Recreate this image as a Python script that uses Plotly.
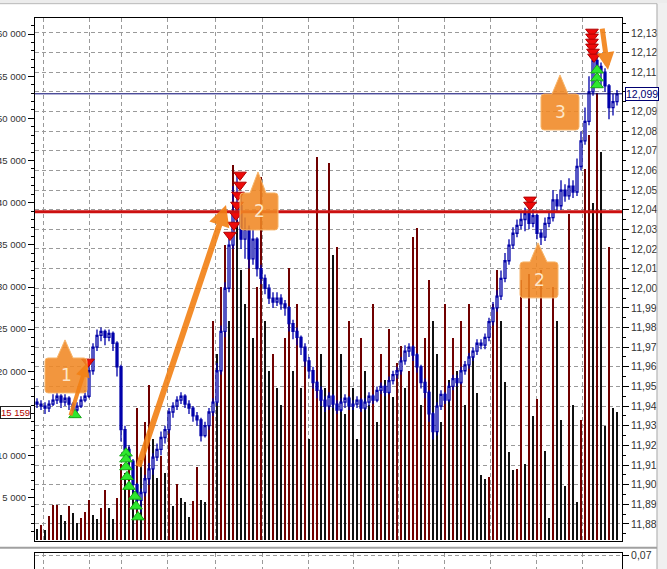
import plotly.graph_objects as go

# price bars, in thousandths above 11.800 (so 142 -> 11.942)
first_open = 142
close_ = [141, 140, 139, 141, 143, 145, 142, 144, 141, 138, 140, 143, 145, 158, 170, 176, 178, 175, 177, 172,
          160, 128, 118, 112, 100, 92, 96, 103, 108, 114, 118, 124, 128, 137, 140, 143, 145, 141, 139, 135,
          133, 125, 130, 137, 142, 158, 178, 200, 222, 238, 242, 225, 230, 215, 225, 210, 205, 200, 195, 193,
          195, 192, 190, 182, 178, 175, 170, 163, 158, 152, 148, 143, 140, 145, 141, 138, 142, 144, 140, 141,
          143, 139, 142, 145, 143, 148, 150, 147, 153, 156, 158, 163, 168, 170, 166, 160, 152, 147, 136, 127,
          140, 146, 143, 150, 154, 152, 158, 161, 165, 168, 172, 171, 175, 183, 190, 196, 205, 214, 222, 228,
          232, 235, 238, 233, 237, 228, 226, 233, 236, 245, 242, 250, 247, 252, 249, 262, 275, 285, 300, 316,
          313, 310, 303, 292, 295, 299]
high_ = [144, 143, 142, 143, 146, 147, 146, 146, 145, 142, 142, 145, 148, 161, 172, 179, 180, 179, 179, 178,
         173, 161, 130, 120, 113, 101, 98, 105, 111, 116, 121, 127, 130, 139, 142, 145, 147, 146, 143, 140,
         137, 134, 132, 139, 144, 162, 181, 203, 226, 252, 258, 248, 236, 232, 230, 226, 212, 207, 202, 198,
         198, 197, 194, 191, 184, 180, 176, 172, 165, 160, 153, 150, 145, 147, 146, 143, 144, 146, 145, 143,
         145, 144, 144, 147, 146, 150, 152, 151, 155, 158, 160, 165, 171, 172, 171, 167, 161, 154, 148, 137,
         142, 148, 147, 152, 156, 156, 160, 163, 167, 170, 174, 174, 177, 185, 193, 199, 209, 218, 225, 231,
         235, 239, 241, 240, 240, 238, 230, 236, 239, 250, 248, 255, 253, 256, 255, 266, 280, 292, 308, 321,
         320, 315, 312, 304, 299, 301]
low_ = [139, 138, 136, 137, 140, 141, 139, 140, 138, 134, 136, 139, 142, 144, 156, 168, 173, 171, 173, 168,
        155, 122, 114, 108, 96, 87, 86, 94, 100, 105, 112, 115, 121, 126, 134, 138, 141, 139, 136, 132,
        130, 122, 124, 128, 135, 140, 156, 175, 198, 220, 232, 220, 215, 210, 212, 206, 202, 197, 192, 190,
        191, 189, 186, 178, 174, 171, 166, 160, 154, 149, 144, 140, 137, 138, 139, 136, 137, 139, 138, 138,
        139, 137, 138, 140, 141, 142, 146, 145, 146, 151, 154, 156, 161, 165, 163, 157, 149, 144, 132, 123,
        125, 138, 141, 142, 148, 150, 151, 156, 159, 163, 166, 169, 169, 173, 181, 188, 194, 203, 212, 220,
        226, 230, 229, 230, 231, 225, 222, 224, 231, 234, 239, 240, 244, 245, 246, 247, 260, 273, 283, 298,
        309, 303, 300, 286, 288, 293]

volume = [1300, 1800, 1200, 2800, 4100, 4200, 3000, 2300, 4000, 3200, 2000, 2600, 3300,
          4700, 3000, 2500, 3800, 5900, 3800, 2500, 5000,
          9000, 7900, 11000, 6000, 15700, 9500, 14000, 18400, 12000, 7300, 10000, 8000,
          14000, 4000, 6700, 5000, 4500, 2700, 4600, 8700, 4800, 4500, 14000, 26000,
          22000, 30000, 35000, 26000, 44500, 38000, 32000, 28000, 36000, 24000, 30000, 43000, 26000, 20000, 22000, 18000,
          16000, 24000, 32300, 20000, 28000, 18000, 22000, 12000, 20000, 45400, 22000, 18000, 44700, 33800, 34700,
          22000, 15000, 26000, 18000, 12000, 24000, 20000, 16000, 28000, 14000, 22000, 19000, 25000, 17000, 21000,
          23000, 18000, 20000, 35900, 37000, 16000, 24000, 30800, 26000, 22000, 14000, 28000, 19000, 24000,
          20000, 26000, 16000, 28000, 22000, 17400, 7700, 7200, 7500, 28000, 32000, 26000, 18700, 10400, 8300,
          8400, 30800, 9000, 31600, 14700, 16700, 32000, 10500, 2600, 30000, 26000, 14200, 6400, 38700, 16000,
          4500, 14200, 44000, 48000, 40000, 53000, 46000, 13500, 34700, 15600, 15200]

# signal arrows (bar index, thousandths above 11.800)
buy_x = [9.5, 22.25, 22.25, 22.25, 22.5, 23.0, 24.5, 24.75, 25.25, 140, 140, 140]
buy_v = [135.5, 116, 113, 109, 104, 99, 94, 89, 83.5, 311, 307, 303.5]
sell_x = [12.75, 50.75, 50.75, 50.25, 50.0, 49.75, 49.25, 48.25, 123.25, 123.25,
          138.75, 138.75, 138.75, 138.75, 139.0, 139.25]
sell_v = [162.5, 257.7, 252.6, 247.5, 242.4, 237.3, 232.2, 227.1, 245, 242.4,
          330.5, 328, 325.4, 322.9, 320.3, 317.8]

level_red = 12.039
level_last = 12.099
last_volume = 15159

callout_labels = ["1", "2", "2", "3"]
callout_boxes = [  # x0, x1, v_bottom, v_top, pointer base x0, x1, apex x, apex v
    (2.0, 12.5, 146.7, 164.5, 5.0, 9.0, 7.0, 173.7),
    (50.75, 60.25, 229.7, 248.5, 53.25, 57.25, 55.25, 259.2),
    (120.75, 130.25, 195.1, 213.4, 123.25, 127.5, 125.25, 223.1),
    (126.0, 135.5, 280.6, 298.9, 128.75, 132.75, 130.75, 308.6),
]
arrows = [  # tail x, tail v, head x, head v, width
    (25.25, 108.5, 47.25, 242.4, 6),
    (8.25, 134.5, 12.5, 162.0, 4),
    (141.25, 333.0, 142.75, 311.2, 5),
]


def p(v):
    return 11.8 + v / 1000.0


n = len(close_)
xs = list(range(n))
open_ = [first_open] + close_[:-1]
vol_colors = ["#700000" if i > 0 and volume[i] > volume[i - 1] else "#101010" for i in range(n)]

FONT = "Liberation Sans"
GRID = dict(showgrid=True, gridcolor="#9a9a9a", griddash="4px,3px", gridwidth=1)
fig = go.Figure()

fig.add_trace(go.Bar(x=xs, y=volume, width=0.3, marker=dict(color=vol_colors, line=dict(width=0)),
                     yaxis="y", xaxis="x", showlegend=False))

fig.add_trace(go.Candlestick(
    x=xs, open=[p(v) for v in open_], high=[p(v) for v in high_],
    low=[p(v) for v in low_], close=[p(v) for v in close_],
    increasing=dict(line=dict(color="#0000a8", width=1.3), fillcolor="white"),
    decreasing=dict(line=dict(color="#0000a8", width=1.3), fillcolor="#0000b4"),
    whiskerwidth=0, yaxis="y2", xaxis="x", showlegend=False))

fig.add_trace(go.Scatter(x=buy_x, y=[p(v) for v in buy_v], mode="markers", yaxis="y2",
                         marker=dict(symbol="triangle-up", size=11, color="#2ee82e",
                                     line=dict(color="#16a816", width=1)), showlegend=False))
fig.add_trace(go.Scatter(x=sell_x, y=[p(v) for v in sell_v], mode="markers", yaxis="y2",
                         marker=dict(symbol="triangle-down", size=11, color="#ee0a0a",
                                     line=dict(color="#b00000", width=1)), showlegend=False))
# lower indicator window (empty)
fig.add_trace(go.Scatter(x=[], y=[], xaxis="x2", yaxis="y3", showlegend=False))

shapes = []
# horizontal levels
shapes.append(dict(type="line", xref="paper", x0=0, x1=1, yref="y2", y0=level_red, y1=level_red,
                   line=dict(color="#cc1010", width=3)))
shapes.append(dict(type="line", xref="paper", x0=0, x1=1, yref="y2", y0=level_last, y1=level_last,
                   line=dict(color="#000070", width=1)))

# callout boxes
rx, ry = 0.8, 0.0016
for (x0, x1, vb, vt, b0, b1, axx, av) in callout_boxes:
    y0, y1, ay = p(vb), p(vt), p(av)
    path = (f"M {x0+rx},{y1} L {b0},{y1} L {axx},{ay} L {b1},{y1} L {x1-rx},{y1} "
            f"Q {x1},{y1} {x1},{y1-ry} L {x1},{y0+ry} Q {x1},{y0} {x1-rx},{y0} "
            f"L {x0+rx},{y0} Q {x0},{y0} {x0},{y0+ry} L {x0},{y1-ry} Q {x0},{y1} {x0+rx},{y1} Z")
    shapes.append(dict(type="path", path=path, xref="x", yref="y2", layer="above",
                       fillcolor="rgba(240,135,35,0.88)", line=dict(color="#f7b56a", width=1)))

# window frame and panel separator
shapes += [
    dict(type="rect", xref="paper", yref="paper", x0=-0.07, x1=1.08, y0=1.026, y1=1.04,
         fillcolor="#ececec", line=dict(width=0), layer="below"),
    dict(type="line", xref="paper", yref="paper", x0=-0.07, x1=1.0596, y0=1.026, y1=1.026,
         line=dict(color="#b8b8b8", width=1)),
    dict(type="rect", xref="paper", yref="paper", x0=1.0596, x1=1.08, y0=-0.01, y1=1.026,
         fillcolor="#f0f0f0", line=dict(width=0), layer="below"),
    dict(type="line", xref="paper", yref="paper", x0=1.0596, x1=1.0596, y0=-0.01, y1=1.026,
         line=dict(color="#a8a8a8", width=1)),
    dict(type="line", xref="paper", yref="paper", x0=-0.07, x1=1.0596, y0=0.0385, y1=0.0385,
         line=dict(color="#a0a0a0", width=2)),
]

annotations = []
for (x0, x1, vb, vt, b0, b1, axx, av), lab in zip(callout_boxes, callout_labels):
    annotations.append(dict(x=(x0 + x1) / 2, y=p((vb + vt) / 2), xref="x", yref="y2", text=lab,
                            showarrow=False, font=dict(family="DejaVu Sans", size=17, color="#fde6c8")))
for (tx, tv, hx, hv, w) in arrows:
    annotations.append(dict(x=hx, y=p(hv), ax=tx, ay=p(tv), xref="x", yref="y2", axref="x", ayref="y2",
                            text="", showarrow=True, arrowhead=2, arrowsize=0.7, arrowwidth=w,
                            arrowcolor="rgba(242,128,20,0.9)"))
annotations.append(dict(x=1, y=level_last, xref="paper", yref="y2", xanchor="left", xshift=3,
                        text="12,099", showarrow=False, bgcolor="white", bordercolor="#000070",
                        borderwidth=1, borderpad=0, font=dict(family=FONT, size=10.5, color="#000070")))
annotations.append(dict(x=0, y=last_volume, xref="paper", yref="y", xanchor="right", xshift=-4,
                        text="15 159", showarrow=False, bgcolor="white", bordercolor="#202020",
                        borderwidth=1, borderpad=0, font=dict(family=FONT, size=9.5, color="#b00000")))

grid_x = [1.5, 13.0, 21.0, 32.5, 44.5, 56.25, 67.75, 79.0, 90.25, 101.75, 113.25, 124.75, 136.25]
x_range = [-0.5, 146.25]

fig.update_layout(
    width=667, height=569, margin=dict(l=35, r=45, t=18, b=0, autoexpand=False),
    paper_bgcolor="white", plot_bgcolor="white", separators=", ",
    font=dict(family=FONT, size=10.5, color="#333333"),
    bargap=0, shapes=shapes, annotations=annotations, showlegend=False,
    xaxis=dict(domain=[0, 1], anchor="y", range=x_range, tickvals=grid_x, showticklabels=False,
               ticks="", **GRID, showline=True, mirror=True, linecolor="black", linewidth=1,
               automargin=False, rangeslider=dict(visible=False), zeroline=False),
    yaxis=dict(domain=[0.0508, 1], anchor="x", side="left", range=[-120, 61900], automargin=False,
               tickvals=list(range(5000, 60001, 5000)), tickformat=",d", ticks="outside",
               ticklen=6, tickcolor="black", showgrid=False, zeroline=False,
               showline=True, linecolor="black", tickfont=dict(size=9.5),
               minor=dict(tickvals=list(range(1000, 62000, 1000)), ticks="outside", ticklen=3,
                          tickcolor="black", showgrid=False)),
    yaxis2=dict(overlaying="y", anchor="x", side="right", range=[11.8713, 12.1376], automargin=False,
                tickvals=[round(11.88 + 0.01 * k, 2) for k in range(26)], tickformat=".2f",
                ticks="outside", ticklen=6, tickcolor="black", **GRID,
                zeroline=False, showline=True, linecolor="black",
                minor=dict(tickvals=[round(11.875 + 0.01 * k, 3) for k in range(27)], ticks="outside",
                           ticklen=3, tickcolor="black", showgrid=False)),
    xaxis2=dict(domain=[0, 1], anchor="y3", range=x_range, tickvals=grid_x, showticklabels=False,
                ticks="", **GRID, side="top",
                showline=True, linecolor="black", zeroline=False, automargin=False),
    yaxis3=dict(domain=[0, 0.029], anchor="x2", side="right", range=[0.064, 0.0712], automargin=False,
                tickvals=[0.07], ticktext=["0,07"], ticks="outside", ticklen=6, tickcolor="black",
                **GRID, showline=True, mirror=True,
                linecolor="black", zeroline=False),
)

# the page's default body margin would push the chart 8px right and down
fig.write_html("out.html", config={"displayModeBar": False},
               post_script="document.body.style.margin='0';")
